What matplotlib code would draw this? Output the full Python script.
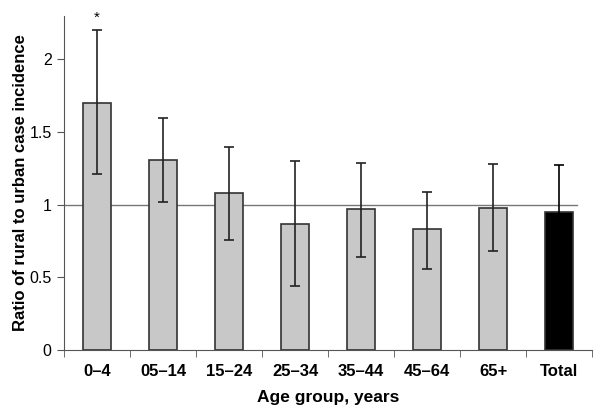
import matplotlib.pyplot as plt
import numpy as np

plt.rcParams['font.family'] = ['Liberation Sans', 'DejaVu Sans']

# data
groups = ["0\u20134", "05\u201314", "15\u201324", "25\u201334", "35\u201344", "45\u201364", "65+", "Total"]
ratio = [1.70, 1.31, 1.08, 0.87, 0.97, 0.83, 0.98, 0.95]
ci_low = [1.21, 1.02, 0.76, 0.44, 0.64, 0.56, 0.68, 0.71]
ci_high = [2.20, 1.60, 1.40, 1.30, 1.29, 1.09, 1.28, 1.27]
fills = ["#c8c8c8"] * 7 + ["#000000"]

x = np.arange(len(groups))
err = np.array([np.array(ratio) - np.array(ci_low), np.array(ci_high) - np.array(ratio)])

fig = plt.figure(figsize=(6, 4.19), dpi=100)
ax = fig.add_axes([0.107, 0.165, 0.88, 0.797])

ax.bar(x, ratio, width=0.43, color=fills, edgecolor="#333333", linewidth=1.2, zorder=2)
ax.errorbar(x[:7], ratio[:7], yerr=err[:, :7], fmt="none", ecolor="#222222", elinewidth=1.2,
            capsize=3.5, capthick=1.2, zorder=3)
ax.errorbar(x[7:], ratio[7:], yerr=err[:, 7:], fmt="none", ecolor="#000000", elinewidth=1.2,
            capsize=3.5, capthick=1.2, zorder=3)
ax.plot([-0.5, 7.27], [1, 1], color="#777777", linewidth=1, zorder=1)
ax.text(0, 2.29, "*", ha="center", va="center", fontsize=11, clip_on=False)

ax.set_xlim(-0.5, 7.5)
ax.set_ylim(0, 2.3)
ax.set_yticks([0, 0.5, 1, 1.5, 2])
ax.set_yticklabels(["0", "0.5", "1", "1.5", "2"], fontsize=11.5)
ax.set_xticks(x)
ax.set_xticklabels(groups, fontsize=12, fontweight="bold")
ax.set_xticks(np.arange(-0.5, 8, 1), minor=True)
ax.tick_params(axis="x", which="major", length=0, pad=10)
ax.tick_params(axis="x", which="minor", length=5, color="#555555")
ax.tick_params(axis="y", length=5, color="#555555", pad=4)

for s in ["top", "right"]:
    ax.spines[s].set_visible(False)
for s in ["left", "bottom"]:
    ax.spines[s].set_color("#555555")

ax.set_ylabel("Ratio of rural to urban case incidence", fontsize=12, fontweight="bold", labelpad=1)
ax.set_xlabel("Age group, years", fontsize=12.5, fontweight="bold", labelpad=8)

fig.savefig("out.png", dpi=100)
